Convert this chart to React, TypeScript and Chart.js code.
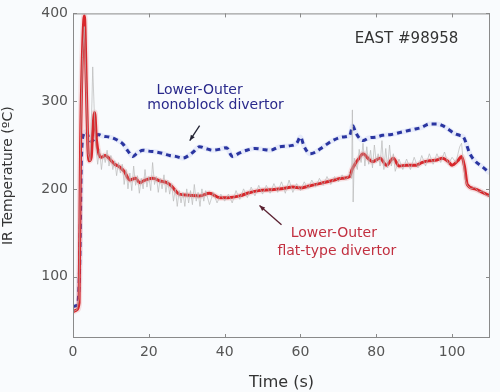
import React, { useEffect, useRef } from "react";
import { Chart, registerables } from "chart.js";

Chart.register(...registerables);

// ---- data ----
const redTime = [0, 1, 1.6, 2.0, 2.4, 3.0, 3.5, 3.9, 4.3, 4.8, 5.2, 5.7, 6.2, 6.8, 7.5, 8.5, 9.7, 11, 12.3, 13.5, 15, 16.5, 17.6, 19, 21, 23, 24.7, 26, 28, 30, 33.4, 36, 38.7, 41, 44, 46, 49, 52, 55, 58, 60, 62, 65, 68, 71, 73, 73.6, 74.5, 75.5, 76.5, 78, 79, 81, 82.7, 84.5, 86, 88, 90.6, 92, 94, 96, 97.5, 99, 100, 101.5, 102.5, 103.3, 104, 106, 108, 110];
const redTemp = [60, 62, 70, 250, 340, 397, 320, 250, 232, 236, 265, 287, 255, 240, 236, 238, 234, 228, 225, 220, 210, 212, 207, 210, 212, 209, 207, 203, 194, 193, 192, 195, 190, 190, 192, 195, 198, 199, 200, 202, 201, 203, 206, 209, 212, 214, 222, 229, 235, 240, 234, 231, 235, 227, 235, 226, 227, 227, 230, 232, 233, 235, 231, 227, 232, 237, 225, 205, 200, 196, 192];

const blueTime = [0, 1.2, 1.8, 2.2, 2.8, 3.5, 4.2, 4.9, 5.8, 6.6, 8, 9.7, 11.5, 13.2, 14.5, 15.8, 17, 18.5, 20, 22, 24, 25.5, 27, 29, 30.5, 31.7, 33.4, 35, 36.9, 38.5, 40.5, 42, 44, 45.8, 48, 50, 52, 54.5, 57, 59, 60, 61, 62.5, 64, 66, 68.5, 71, 73, 73.8, 74.5, 75.5, 76.5, 78, 80, 81.7, 84, 86, 88, 90, 92, 94, 96, 97.5, 99, 100.7, 102, 103, 104.7, 106, 108, 110];
const blueTemp = [66, 68, 120, 230, 262, 265, 258, 254, 258, 262, 260, 259, 256, 251, 243, 237, 241, 244, 243, 242, 240, 238, 237, 235, 238, 242, 248, 246, 244, 245, 247, 237, 241, 244, 246, 245, 244, 248, 249, 252, 259, 248, 240, 242, 248, 255, 259, 261, 272, 265, 258, 255, 258, 259, 261, 262, 264, 266, 268, 270, 274, 274, 272, 268, 263, 261, 259, 240, 232, 225, 218];

const grayTime = [0, 1, 1.6, 2, 2.5, 3, 3.5, 4, 4.5, 5, 5.2, 5.6, 6, 6.5, 7, 7.5, 8, 8.5, 9, 9.5, 10, 10.5, 11, 11.5, 12, 12.5, 13, 13.5, 14, 14.5, 15, 15.5, 16, 16.5, 17, 17.5, 18, 18.5, 19, 19.5, 20, 20.5, 21, 21.5, 22, 22.5, 23, 23.5, 24, 24.5, 25, 25.5, 26, 26.5, 27, 27.5, 28, 28.5, 29, 29.5, 30, 30.5, 31, 31.5, 32, 32.5, 33, 33.5, 34, 34.5, 35, 36, 37, 38, 39, 40, 41, 42, 43, 44, 45, 46, 47, 48, 49, 50, 51, 52, 53, 54, 55, 56, 57, 58, 59, 60, 61, 62, 63, 64, 65, 66, 67, 68, 69, 70, 71, 72, 73, 73.5, 73.7, 73.9, 74.2, 75, 75.5, 76, 76.5, 77, 77.5, 78, 78.5, 79, 79.5, 80, 80.5, 81, 81.5, 82, 82.5, 83, 83.5, 84, 84.5, 85, 86, 87, 88, 89, 90, 91, 92, 93, 94, 95, 96, 97, 98, 99, 100, 101, 102, 102.5, 103, 103.5, 104, 105, 106, 107, 108, 109, 110];
const grayTemp = [60, 62, 75, 260, 350, 385, 310, 240, 232, 300, 339, 290, 250, 228, 245, 222, 240, 230, 244, 226, 238, 222, 232, 215, 230, 218, 228, 205, 222, 200, 218, 198, 226, 204, 215, 195, 212, 200, 222, 202, 214, 198, 230, 205, 214, 196, 212, 200, 216, 196, 210, 194, 206, 186, 200, 180, 198, 184, 196, 180, 200, 184, 198, 182, 205, 186, 196, 180, 200, 186, 198, 182, 196, 184, 194, 186, 194, 184, 198, 188, 200, 190, 202, 192, 204, 194, 204, 195, 206, 196, 208, 195, 210, 196, 206, 198, 208, 200, 210, 202, 212, 204, 214, 205, 214, 208, 216, 210, 218, 212, 290, 185, 235, 222, 245, 230, 252, 226, 248, 228, 244, 224, 250, 230, 240, 226, 255, 222, 246, 224, 250, 226, 240, 220, 234, 222, 234, 222, 236, 224, 238, 226, 240, 228, 240, 230, 242, 228, 236, 230, 248, 252, 228, 210, 204, 200, 202, 196, 198, 192, 192];

const xTicks = [0, 20, 40, 60, 80, 100];
const yTicks = [100, 200, 300, 400];

const FONT = "'DejaVu Sans', sans-serif";

const toPts = (xs: number[], ys: number[]) => xs.map((x, i) => ({ x, y: ys[i] }));

const framePlugin = {
  id: "frame",
  beforeDraw(chart: any) {
    const { ctx, width, height } = chart;
    ctx.save();
    ctx.fillStyle = "#f9fbfd";
    ctx.fillRect(0, 0, width, height);
    ctx.restore();
  },
  afterDatasetsDraw(chart: any) {
    const { ctx, chartArea: a, scales } = chart;
    const xs = scales.x;
    const ys = scales.y;
    ctx.save();
    ctx.strokeStyle = "#8a8a8a";
    ctx.lineWidth = 1;
    ctx.strokeRect(a.left + 0.5, a.top + 0.5, a.right - a.left - 1, a.bottom - a.top - 1);
    ctx.beginPath();
    const tl = 4;
    xTicks.forEach((v) => {
      const px = Math.round(xs.getPixelForValue(v)) + 0.5;
      ctx.moveTo(px, a.bottom);
      ctx.lineTo(px, a.bottom - tl);
      ctx.moveTo(px, a.top);
      ctx.lineTo(px, a.top + tl);
    });
    yTicks.forEach((v) => {
      const py = Math.round(ys.getPixelForValue(v)) + 0.5;
      ctx.moveTo(a.left, py);
      ctx.lineTo(a.left + tl, py);
      ctx.moveTo(a.right, py);
      ctx.lineTo(a.right - tl, py);
    });
    ctx.stroke();

    const P = (x: number, y: number) => [xs.getPixelForValue(x), ys.getPixelForValue(y)];
    const arrow = (x0: number, y0: number, x1: number, y1: number, color: string) => {
      const [ax, ay] = P(x0, y0);
      const [bx, by] = P(x1, y1);
      ctx.strokeStyle = color;
      ctx.fillStyle = color;
      ctx.lineWidth = 1.3;
      ctx.beginPath();
      ctx.moveTo(ax, ay);
      ctx.lineTo(bx, by);
      ctx.stroke();
      const ang = Math.atan2(by - ay, bx - ax);
      const hl = 6;
      ctx.beginPath();
      ctx.moveTo(bx, by);
      ctx.lineTo(bx - hl * Math.cos(ang - 0.4), by - hl * Math.sin(ang - 0.4));
      ctx.lineTo(bx - hl * Math.cos(ang + 0.4), by - hl * Math.sin(ang + 0.4));
      ctx.closePath();
      ctx.fill();
    };
    // text annotations
    ctx.textAlign = "center";
    ctx.textBaseline = "middle";
    ctx.fillStyle = "#333333";
    ctx.font = `15px ${FONT}`;
    ctx.fillText("EAST #98958", xs.getPixelForValue(88.0), ys.getPixelForValue(371));

    ctx.fillStyle = "#2a2a8c";
    ctx.font = `14px ${FONT}`;
    ctx.fillText("Lower-Outer", xs.getPixelForValue(33.4), ys.getPixelForValue(312));
    ctx.fillText("monoblock divertor", xs.getPixelForValue(37.6), ys.getPixelForValue(295));

    ctx.fillStyle = "#c23040";
    ctx.fillText("Lower-Outer", xs.getPixelForValue(68.8), ys.getPixelForValue(149));
    ctx.fillText("flat-type divertor", xs.getPixelForValue(69.6), ys.getPixelForValue(129));

    arrow(33.4, 272, 30.8, 255, "#222233");
    arrow(55.0, 159, 49.2, 181, "#5a2030");
    ctx.restore();
  },
};

export default function App() {
  const ref = useRef<HTMLCanvasElement | null>(null);
  useEffect(() => {
    if (!ref.current) return;
    const chart = new Chart(ref.current, {
      type: "line",
      data: {
        datasets: [
          {
            label: "raw",
            data: toPts(grayTime, grayTemp),
            borderColor: "rgba(185,185,185,0.7)",
            borderWidth: 1,
            pointRadius: 0,
            tension: 0,
          },
          {
            label: "flat halo",
            data: toPts(redTime, redTemp),
            borderColor: "rgba(235,110,110,0.2)",
            borderWidth: 6,
            pointRadius: 0,
            cubicInterpolationMode: "monotone",
          },
          {
            label: "Lower-Outer flat-type divertor",
            data: toPts(redTime, redTemp),
            borderColor: "#d4161c",
            borderWidth: 3,
            pointRadius: 0,
            cubicInterpolationMode: "monotone",
          },
          {
            label: "mono halo",
            data: toPts(blueTime, blueTemp),
            borderColor: "rgba(130,150,235,0.15)",
            borderWidth: 5,
            pointRadius: 0,
            cubicInterpolationMode: "monotone",
          },
          {
            label: "Lower-Outer monoblock divertor",
            data: toPts(blueTime, blueTemp),
            borderColor: "#1c2594",
            borderWidth: 3,
            borderDash: [5, 4],
            pointRadius: 0,
            cubicInterpolationMode: "monotone",
          },
        ],
      },
      options: {
        responsive: false,
        animation: false,
        layout: { padding: { top: 7, right: 10, left: 0, bottom: 0 } },
        plugins: { legend: { display: false }, tooltip: { enabled: false } },
        scales: {
          x: {
            type: "linear",
            min: 0,
            max: 110,
            afterBuildTicks: (s: any) => {
              s.ticks = xTicks.map((v) => ({ value: v }));
            },
            afterFit: (s: any) => {
              s.height = 54;
            },
            grid: { display: false, drawTicks: false },
            border: { display: false },
            ticks: {
              padding: 6,
              color: "#555555",
              font: { family: FONT, size: 14 },
              maxRotation: 0,
            },
            title: {
              display: true,
              text: "Time (s)",
              color: "#333333",
              font: { family: FONT, size: 16 },
              padding: { top: 4, bottom: 0 },
            },
          },
          y: {
            type: "linear",
            min: 30,
            max: 400,
            afterBuildTicks: (s: any) => {
              s.ticks = yTicks.map((v) => ({ value: v }));
            },
            afterFit: (s: any) => {
              s.width = 73;
            },
            grid: { display: false, drawTicks: false },
            border: { display: false },
            ticks: {
              padding: 5,
              color: "#555555",
              font: { family: FONT, size: 14 },
            },
            title: {
              display: true,
              text: "IR Temperature (ºC)",
              color: "#333333",
              font: { family: FONT, size: 14 },
              padding: { top: 0, bottom: 2 },
            },
          },
        },
      },
      plugins: [framePlugin],
    });
    return () => chart.destroy();
  }, []);
  return (
    <div style={{ position: "fixed", left: 0, top: 0, width: 500, height: 392 }}>
      <canvas ref={ref} width={500} height={392} style={{ display: "block" }} />
    </div>
  );
}
